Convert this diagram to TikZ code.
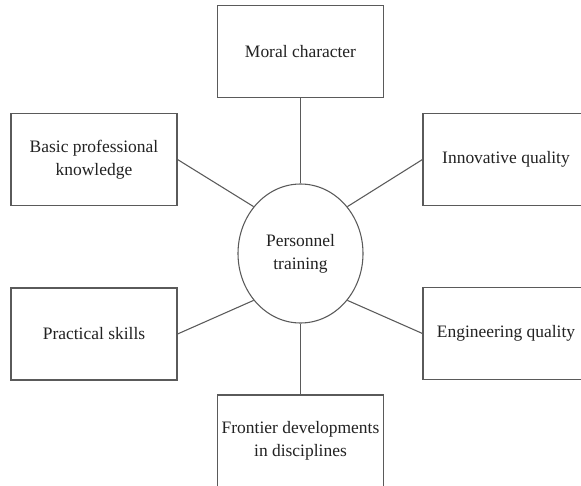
\documentclass[tikz,border=0pt]{standalone}
\usepackage{fontspec}
\setmainfont{Liberation Serif}
\usetikzlibrary{shapes.geometric}
\definecolor{edgegray}{HTML}{5A5A5A}
\definecolor{inkgray}{HTML}{222222}
\tikzset{
	box/.style={draw=edgegray, line width=0.8pt, minimum width=124.5pt, minimum height=69pt, inner sep=0pt, align=center, text=inkgray, font=\fontsize{13.1}{17.3}\selectfont},
	hub/.style={draw=edgegray, line width=0.8pt, ellipse, minimum width=93.75pt, minimum height=104.25pt, inner sep=0pt, align=center, text=inkgray, font=\fontsize{13.1}{17.3}\selectfont},
	link/.style={draw=edgegray, line width=0.8pt}
}
\begin{document}
\begin{tikzpicture}[x=0.75pt,y=-0.75pt]
	\clip (0,0) rectangle (581,485);
	\fill[white] (0,0) rectangle (581,485);
	
	\node[hub] at (300.5,253.5) (centre) {Personnel\\training};
	
	\node[box] at (300.5,51.5) (moral) {Moral character};
	\node[box] at (94,159.5) (basic) {Basic professional\\knowledge};
	\node[box] at (506,159.5) (innov) {Innovative quality};
	\node[box] at (94,334) (skills) {Practical skills};
	\node[box] at (506,333.5) (engin) {Engineering quality};
	\node[box] at (300.5,441) (front) {Frontier developments\\in disciplines};
	
	\draw[link] (centre.north) -- (moral.south);
	\draw[link] (centre.135) -- (basic.east);
	\draw[link] (centre.45) -- (innov.west);
	\draw[link] (centre.225) -- (skills.east);
	\draw[link] (centre.315) -- (engin.west);
	\draw[link] (centre.south) -- (front.north);
\end{tikzpicture}
\end{document}
